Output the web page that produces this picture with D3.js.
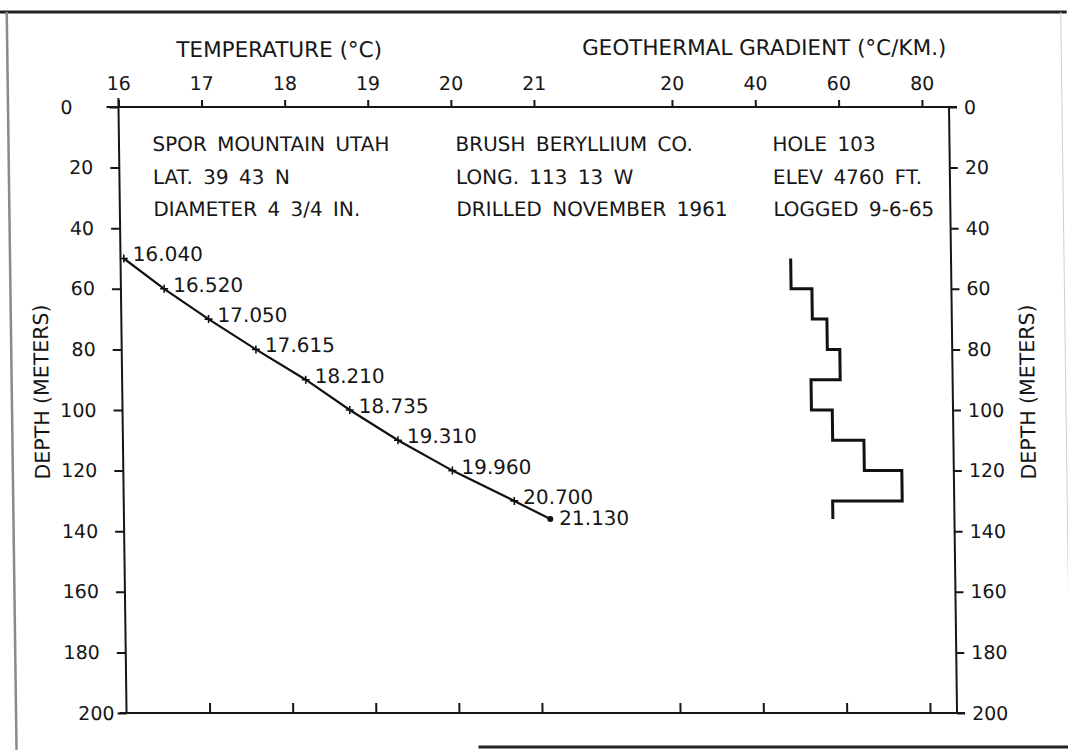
<!DOCTYPE html>
<html>
<head>
  <meta charset="utf-8" />
  <script src="https://cdn.jsdelivr.net/npm/d3@7"></script>
  <style>
    body { margin: 0; background: #fff; }
    text { font-family: "DejaVu Sans", sans-serif; fill: #161616; }
    .axis line { stroke: #161616; stroke-width: 2; }
  </style>
</head>
<body>
<svg id="chart" width="1068" height="750"></svg>
<script>
  // hole 103 temperature log
  var depths = [50, 60, 70, 80, 90, 100, 110, 120, 130, 136]
  var temps = [16.040, 16.520, 17.050, 17.615, 18.210, 18.735, 19.310, 19.960, 20.700, 21.130]

  // geothermal gradient per depth interval (deg C / km)
  var gradTop = [50, 60, 70, 80, 90, 100, 110, 120, 130]
  var gradBottom = [60, 70, 80, 90, 100, 110, 120, 130, 136]
  var gradVals = [48, 53, 56.5, 59.5, 52.5, 57.5, 65, 74, 57.3]

  var depthTicks = [0, 20, 40, 60, 80, 100, 120, 140, 160, 180, 200]
  var tempTicks = [16, 17, 18, 19, 20, 21]
  var gradTicks = [20, 40, 60, 80]

  var headCol1 = ["SPOR MOUNTAIN UTAH", "LAT. 39 43 N", "DIAMETER 4 3/4 IN."]
  var headCol2 = ["BRUSH BERYLLIUM CO.", "LONG. 113 13 W", "DRILLED NOVEMBER 1961"]
  var headCol3 = ["HOLE 103", "ELEV 4760 FT.", "LOGGED 9-6-65"]

  var svg = d3.select('#chart')
  var top0 = 107, bottom0 = 713, left0 = 118.5, right0 = 949

  var x = d3.scaleLinear().domain([16, 21]).range([left0, 534])
  var xg = d3.scaleLinear().domain([20, 80]).range([672, 922])
  var y = d3.scaleLinear().domain([0, 200]).range([top0, bottom0])
  var intFmt = d3.format('d')

  // the scanned sheet is sheared a bit: verticals drift right going down
  var g = svg.append('g')
      .attr('transform', 'translate(0,' + top0 + ') skewX(0.76) translate(0,' + (-top0) + ')')

  // sheet border
  g.append('line').attr('x1', 0).attr('x2', 1068).attr('y1', 12).attr('y2', 12)
      .attr('stroke', '#222').attr('stroke-width', 3)
  g.append('line').attr('x1', 8).attr('x2', 8).attr('y1', 12).attr('y2', 750)
      .attr('stroke', '#8a8a8a').attr('stroke-width', 2.5)
  g.append('line').attr('x1', 1062).attr('x2', 1062).attr('y1', 12).attr('y2', 750)
      .attr('stroke', '#d0d0d0').attr('stroke-width', 1)
  g.append('line').attr('x1', 470).attr('x2', 1068).attr('y1', 747).attr('y2', 747)
      .attr('stroke', '#222').attr('stroke-width', 3)

  var axisFont = function(sel) {
    sel.attr('font-size', 19).attr('font-family', null)
    sel.select('.domain').remove()
  }

  // frame lines
  var frame = g.append('g').attr('stroke', '#161616').attr('stroke-width', 2)
  frame.append('line').attr('x1', left0 - 12).attr('x2', right0 + 8).attr('y1', top0).attr('y2', top0)
  frame.append('line').attr('x1', left0 - 7).attr('x2', right0 + 8).attr('y1', bottom0).attr('y2', bottom0)
  frame.append('line').attr('x1', left0).attr('x2', left0).attr('y1', top0 - 9).attr('y2', bottom0)
  frame.append('line').attr('x1', right0).attr('x2', right0).attr('y1', top0).attr('y2', bottom0)

  var leftAxis = g.append('g').attr('class', 'axis')
      .attr('transform', 'translate(' + left0 + ',0)')
      .call(d3.axisLeft(y).tickValues(depthTicks).tickFormat(intFmt).tickSize(9).tickPadding(17))
      .call(axisFont)
  leftAxis.selectAll('.tick text').filter(function(d) { return d === 0 }).attr('x', -46)
  leftAxis.selectAll('.tick text').filter(function(d) { return d === 200 }).attr('x', -12)

  g.append('g').attr('class', 'axis')
      .attr('transform', 'translate(' + right0 + ',0)')
      .call(d3.axisRight(y).tickValues(depthTicks).tickFormat(intFmt).tickSize(8).tickPadding(7))
      .call(axisFont)

  g.append('g').attr('class', 'axis')
      .attr('transform', 'translate(0,' + top0 + ')')
      .call(d3.axisTop(x).tickValues(tempTicks).tickFormat(intFmt).tickSize(7).tickPadding(10))
      .call(axisFont)

  g.append('g').attr('class', 'axis')
      .attr('transform', 'translate(0,' + top0 + ')')
      .call(d3.axisTop(xg).tickValues(gradTicks).tickFormat(intFmt).tickSize(7).tickPadding(10))
      .call(axisFont)

  g.append('g').attr('class', 'axis')
      .attr('transform', 'translate(0,' + bottom0 + ')')
      .call(d3.axisBottom(x).tickValues(tempTicks.slice(1)).tickSize(-10).tickFormat(''))
      .call(axisFont)

  g.append('g').attr('class', 'axis')
      .attr('transform', 'translate(0,' + bottom0 + ')')
      .call(d3.axisBottom(xg).tickValues(gradTicks).tickSize(-10).tickFormat(''))
      .call(axisFont)

  // axis titles
  g.append('text').attr('x', 280).attr('y', 57).attr('text-anchor', 'middle')
      .attr('font-size', 21.5).text('TEMPERATURE (°C)')
  g.append('text').attr('x', 765).attr('y', 55).attr('text-anchor', 'middle')
      .attr('font-size', 21.5).text('GEOTHERMAL GRADIENT (°C/KM.)')
  g.append('text').attr('transform', 'translate(45,392) rotate(-90)').attr('text-anchor', 'middle')
      .attr('font-size', 20.5).text('DEPTH (METERS)')
  g.append('text').attr('transform', 'translate(1031,392) rotate(-90)').attr('text-anchor', 'middle')
      .attr('font-size', 20.5).text('DEPTH (METERS)')

  // header block
  var colX = [152, 455, 772]
  var rowY = [151, 184, 216]
  ;[headCol1, headCol2, headCol3].forEach(function(col, c) {
    g.selectAll(null).data(col).enter().append('text')
        .attr('x', colX[c])
        .attr('y', function(d, i) { return rowY[i] })
        .attr('font-size', 20)
        .style('word-spacing', '4px')
        .text(function(d) { return d })
  })

  // gradient step trace
  var stepPts = []
  gradVals.forEach(function(v, i) {
    stepPts.push([xg(v), y(gradTop[i])])
    stepPts.push([xg(v), y(gradBottom[i])])
  })
  g.append('path')
      .attr('d', d3.line()(stepPts))
      .attr('fill', 'none').attr('stroke', '#111').attr('stroke-width', 3)
      .attr('stroke-linejoin', 'miter')

  // temperature curve
  var tempLine = d3.line()
      .x(function(d, i) { return x(temps[i]) })
      .y(function(d, i) { return y(depths[i]) })
  g.append('path')
      .attr('d', tempLine(depths))
      .attr('fill', 'none').attr('stroke', '#111').attr('stroke-width', 2.2)

  var last = depths.length - 1
  g.selectAll('.mark').data(depths.slice(0, last)).enter().append('path')
      .attr('class', 'mark')
      .attr('transform', function(d, i) { return 'translate(' + x(temps[i]) + ',' + y(d) + ')' })
      .attr('d', 'M-4,0H4M0,-4V4')
      .attr('stroke', '#111').attr('stroke-width', 1.6)
  g.append('circle')
      .attr('cx', x(temps[last])).attr('cy', y(depths[last])).attr('r', 3)
      .attr('fill', '#111')

  var fmt = d3.format('.3f')
  g.selectAll('.tlab').data(depths).enter().append('text')
      .attr('class', 'tlab')
      .attr('x', function(d, i) { return x(temps[i]) + 9 })
      .attr('y', function(d, i) { return y(d) + (i === last ? 6 : 3) })
      .attr('font-size', 20)
      .text(function(d, i) { return fmt(temps[i]) })
</script>
</body>
</html>
